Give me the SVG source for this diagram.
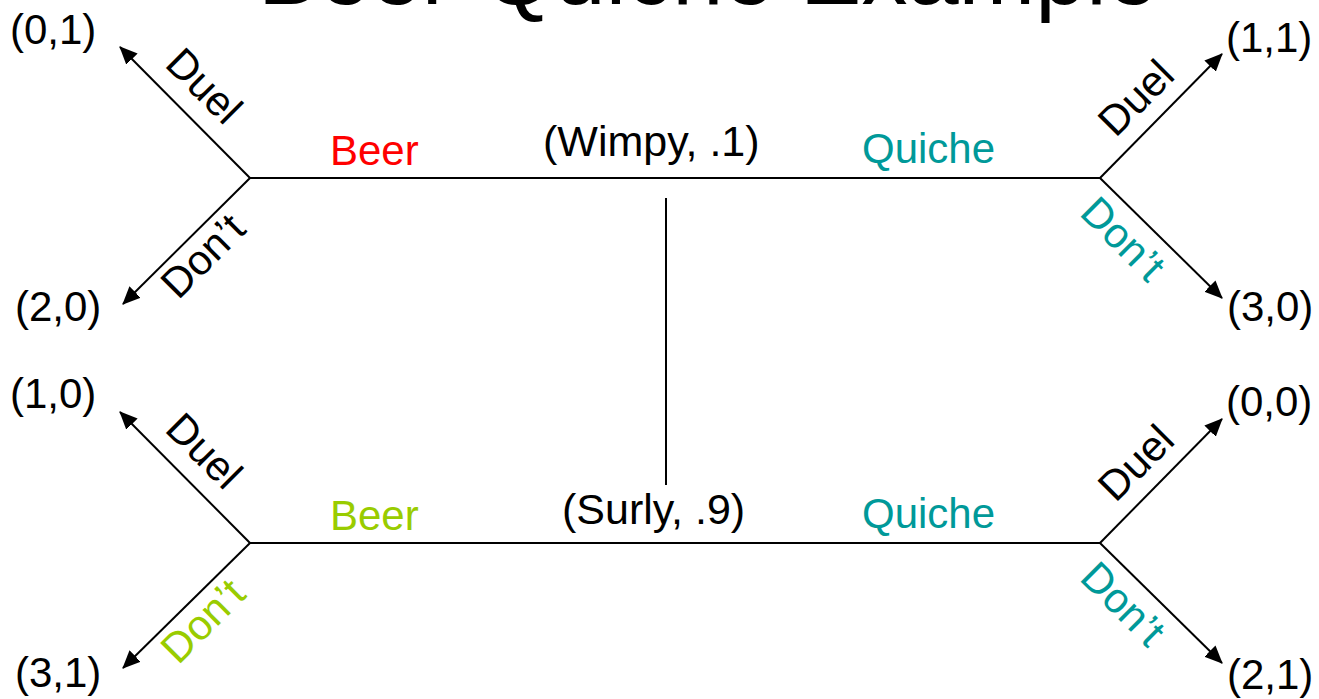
<svg xmlns="http://www.w3.org/2000/svg" width="1319" height="699" viewBox="0 0 1319 699">
<style>
text{font-family:"Liberation Sans",Arial,sans-serif;}
.lbl{font-size:42px;fill:#000;}
.big{font-size:43px;}
.title{font-size:92px;fill:#000;}
.edge{stroke:#000;stroke-width:2;fill:none;}
.arr{stroke:#000;stroke-width:2;fill:none;marker-end:url(#ah);}
.red{fill:#FF0000;}
.green{fill:#99CC00;}
.teal{fill:#009999;}
</style>
<defs>
<marker id="ah" markerUnits="userSpaceOnUse" markerWidth="20" markerHeight="16" refX="17" refY="8" orient="auto">
<path d="M0,0 L18,8 L0,16 Z" fill="#000"/>
</marker>
</defs>
<rect width="1319" height="699" fill="#fff"/>
<text class="title" x="258" y="4">Beer-Quiche Example</text>
<g id="connectors">
<line class="edge" x1="250" y1="178" x2="1100" y2="178"/>
<line class="edge" x1="250" y1="543" x2="1100" y2="543"/>
<line class="edge" x1="666" y1="198" x2="666" y2="485"/>
<line class="arr" x1="250" y1="178" x2="120" y2="47"/>
<line class="arr" x1="250" y1="178" x2="123" y2="304"/>
<line class="arr" x1="1100" y1="178" x2="1222" y2="54"/>
<line class="arr" x1="1100" y1="178" x2="1222" y2="298"/>
<line class="arr" x1="250" y1="543" x2="120" y2="412"/>
<line class="arr" x1="250" y1="543" x2="123" y2="668"/>
<line class="arr" x1="1100" y1="543" x2="1222" y2="419"/>
<line class="arr" x1="1100" y1="543" x2="1222" y2="663"/>
</g>
<g id="edge-labels">
<text class="lbl red" x="330" y="165">Beer</text>
<text class="lbl teal" x="862" y="163">Quiche</text>
<text class="lbl green" x="330" y="530">Beer</text>
<text class="lbl teal" x="862" y="528">Quiche</text>
<text class="lbl" text-anchor="middle" transform="translate(194,96) rotate(45)">Duel</text>
<text class="lbl" text-anchor="middle" transform="translate(213,266) rotate(-45)">Don’t</text>
<text class="lbl" text-anchor="middle" transform="translate(1146,108) rotate(-45)">Duel</text>
<text class="lbl teal" text-anchor="middle" transform="translate(1113,249) rotate(45)">Don’t</text>
<text class="lbl" text-anchor="middle" transform="translate(194,461) rotate(45)">Duel</text>
<text class="lbl green" text-anchor="middle" transform="translate(213,631) rotate(-45)">Don’t</text>
<text class="lbl" text-anchor="middle" transform="translate(1146,473) rotate(-45)">Duel</text>
<text class="lbl teal" text-anchor="middle" transform="translate(1113,614) rotate(45)">Don’t</text>
</g>
<g id="wimpy"><text class="lbl big" x="543" y="156">(Wimpy, .1)</text></g>
<g id="surly"><text class="lbl big" x="562" y="524">(Surly, .9)</text></g>
<g id="payoff-0-1"><text class="lbl" x="10" y="44">(0,1)</text></g>
<g id="payoff-2-0"><text class="lbl" x="15" y="321">(2,0)</text></g>
<g id="payoff-1-1"><text class="lbl" x="1226" y="52">(1,1)</text></g>
<g id="payoff-3-0"><text class="lbl" x="1227" y="321">(3,0)</text></g>
<g id="payoff-1-0"><text class="lbl" x="10" y="408">(1,0)</text></g>
<g id="payoff-3-1"><text class="lbl" x="15" y="687">(3,1)</text></g>
<g id="payoff-0-0"><text class="lbl" x="1226" y="416">(0,0)</text></g>
<g id="payoff-2-1"><text class="lbl" x="1227" y="689">(2,1)</text></g>
</svg>
